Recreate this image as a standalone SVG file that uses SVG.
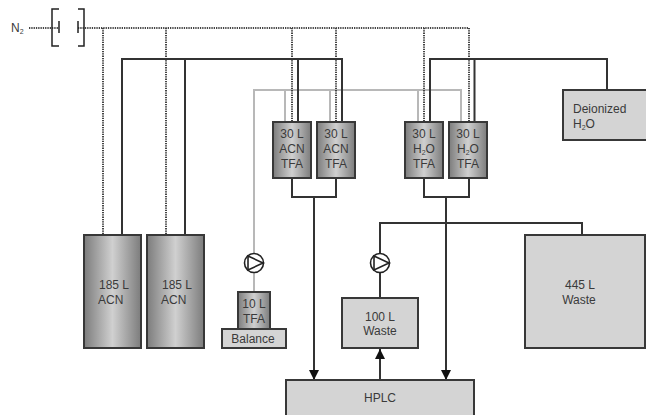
<svg xmlns="http://www.w3.org/2000/svg" width="646" height="415" viewBox="0 0 646 415">
<style>
text{font-family:"Liberation Sans",Arial,sans-serif;font-size:12px;fill:#3a3a3a}
.m{text-anchor:middle}
.sub{font-size:7px}
.box{fill:#d4d4d4;stroke:#383838;stroke-width:2}
.tank{fill:url(#metal);stroke:#383838;stroke-width:2}
.solid,.gray,.dot,.thin{fill:none}
.solid{stroke:#333;stroke-width:2}
.gray{stroke:#b8b8b8;stroke-width:2}
.dot{stroke:#444;stroke-width:2;stroke-dasharray:1.3 1}
.pump{fill:#fff;stroke:#222;stroke-width:1.6}
</style>
<defs>
<linearGradient id="metal" x1="0" x2="1" y1="0" y2="0">
<stop offset="0" stop-color="#7c7c7c"/><stop offset=".5" stop-color="#d0d0d0"/><stop offset="1" stop-color="#7c7c7c"/>
</linearGradient>
<marker id="arrow" markerUnits="userSpaceOnUse" markerWidth="10" markerHeight="10" refX="10" refY="5" orient="auto">
<path d="M0 0L10 5L0 10Z" fill="#111"/>
</marker>
</defs>
<g id="connectors">
<path class="gray" d="M254 291V90H461V121M285 90V121M330 90V121M418 90V121"/>
<path class="dot" d="M29 28H59M78 28H469V121M103 28V235M166 28V235M292 28V121M336 28V121M424 28V121"/>
<path class="solid" d="M122 235V59H342V121M185 59V235M298 59V121M430 121V59H607V90M474.500 59V121"/>
<path class="solid" d="M292 178V197H336V178M424 178V197H469V178"/>
<path class="solid" marker-end="url(#arrow)" d="M314 197V380"/>
<path class="solid" marker-end="url(#arrow)" d="M446 197V380"/>
<path class="solid" marker-end="url(#arrow)" d="M380 380V349"/>
<path class="solid" d="M380 298V223H582V235"/>
<path fill="none" stroke="#222" stroke-width="1.500" d="M59 9H52V46H59M59 21V33M78 9H84V46H78M78 21V33"/>
</g>
<g id="n2"><text x="11" y="32">N<tspan class="sub" dy="2">2</tspan></text></g>
<g id="tank-acn-1"><rect class="tank" x="84" y="235" width="57" height="113"/><text x="99" y="289">185 L</text><text x="98" y="304">ACN</text></g>
<g id="tank-acn-2"><rect class="tank" x="147" y="235" width="57" height="113"/><text x="162" y="289">185 L</text><text x="161" y="304">ACN</text></g>
<g id="mix-acn-1"><rect class="tank" x="273" y="122" width="38" height="56"/><text class="m" x="292" y="138">30 L</text><text class="m" x="292" y="153">ACN</text><text class="m" x="292" y="168">TFA</text></g>
<g id="mix-acn-2"><rect class="tank" x="317" y="122" width="38" height="56"/><text class="m" x="336" y="138">30 L</text><text class="m" x="336" y="153">ACN</text><text class="m" x="336" y="168">TFA</text></g>
<g id="mix-h2o-1"><rect class="tank" x="405" y="122" width="38" height="56"/><text class="m" x="424" y="138">30 L</text><text class="m" x="424" y="153">H<tspan class="sub" dy="2">2</tspan><tspan dy="-2">O</tspan></text><text class="m" x="424" y="168">TFA</text></g>
<g id="mix-h2o-2"><rect class="tank" x="449" y="122" width="38" height="56"/><text class="m" x="468" y="138">30 L</text><text class="m" x="468" y="153">H<tspan class="sub" dy="2">2</tspan><tspan dy="-2">O</tspan></text><text class="m" x="468" y="168">TFA</text></g>
<g id="deionized"><path class="box" d="M647 90H563V140H647"/><text x="573" y="113">Deionized</text><text x="573" y="128">H<tspan class="sub" dy="2">2</tspan><tspan dy="-2">O</tspan></text></g>
<g id="pump-tfa"><circle class="pump" cx="254" cy="263" r="9.500"/><path class="pump" d="M248 256L263 263L248 270Z"/></g>
<g id="tank-tfa"><rect class="tank" x="238" y="292" width="32" height="37"/><text class="m" x="254" y="308">10 L</text><text class="m" x="254" y="323">TFA</text></g>
<g id="balance"><rect class="box" x="222" y="329" width="64" height="19"/><text class="m" x="253" y="343">Balance</text></g>
<g id="pump-waste"><circle class="pump" cx="380" cy="263" r="9.500"/><path class="pump" d="M374 256L389 263L374 270Z"/></g>
<g id="waste-100"><rect class="box" x="342" y="298" width="76" height="50"/><text class="m" x="380" y="321">100 L</text><text class="m" x="380" y="335">Waste</text></g>
<g id="waste-445"><rect class="box" x="525" y="235" width="120" height="113"/><text class="m" x="580" y="289">445 L</text><text class="m" x="579" y="304">Waste</text></g>
<g id="hplc"><path class="box" d="M286 416V380H474V416"/><text class="m" x="380" y="402">HPLC</text></g>
</svg>
